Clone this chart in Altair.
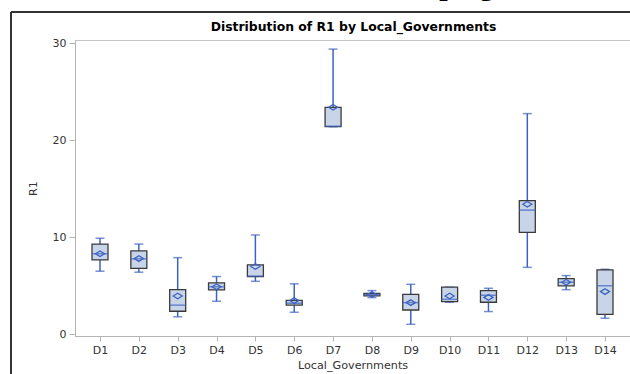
import altair as alt
import pandas as pd

# Summary statistics of R1 for each local government
districts = ["D1", "D2", "D3", "D4", "D5", "D6", "D7",
             "D8", "D9", "D10", "D11", "D12", "D13", "D14"]
whisker_low = [6.5, 6.4, 1.8, 3.4, 5.46, 2.27, 21.4, 3.78, 1.03, 3.3, 2.34, 6.9, 4.6, 1.65]
q1 = [7.66, 6.8, 2.37, 4.57, 5.95, 3.0, 21.4, 3.95, 2.5, 3.37, 3.3, 10.5, 4.98, 2.06]
median = [8.3, 7.77, 3.0, 4.9, 6.0, 3.2, 21.45, 4.1, 3.26, 3.6, 4.02, 12.8, 5.36, 5.0]
q3 = [9.3, 8.6, 4.6, 5.3, 7.15, 3.5, 23.4, 4.2, 4.12, 4.85, 4.5, 13.78, 5.74, 6.63]
whisker_high = [9.9, 9.3, 7.9, 5.95, 10.24, 5.2, 29.4, 4.5, 5.15, 4.85, 4.74, 22.75, 6.05, 6.7]
mean = [8.3, 7.8, 3.95, 4.9, 6.98, 3.47, 23.4, 4.1, 3.26, 3.95, 3.8, 13.4, 5.36, 4.4]

df = pd.DataFrame({
    "Local_Governments": districts,
    "lo": whisker_low, "q1": q1, "med": median,
    "q3": q3, "hi": whisker_high, "mean": mean,
})

FONT = "DejaVu Sans"
BLUE = "#3d63c2"
FILL = "#c8d5e8"
EDGE = "#3a3a3a"
W, H = 555, 296

x_enc = alt.X("Local_Governments:N", sort=districts,
              scale=alt.Scale(type="point", padding=0.6435),
              axis=alt.Axis(title="Local_Governments", labelAngle=0,
                            tickSize=5, labelPadding=3, titlePadding=4))
y_scale = alt.Scale(domain=[-0.18, 30.34], nice=False, zero=False)
y_axis = alt.Axis(title="R1", values=[0, 10, 20, 30], tickSize=6,
                  labelPadding=3, titlePadding=14)

base = alt.Chart(df).encode(x=x_enc)

whisker = base.mark_rule(color=BLUE, strokeWidth=1.5).encode(
    y=alt.Y("lo:Q", scale=y_scale, axis=y_axis), y2="hi:Q")
cap_lo = base.mark_tick(color=BLUE, size=9, thickness=1.5).encode(
    y=alt.Y("lo:Q", scale=y_scale))
cap_hi = base.mark_tick(color=BLUE, size=9, thickness=1.5).encode(
    y=alt.Y("hi:Q", scale=y_scale))
box = base.mark_bar(size=16, fill=FILL, stroke=EDGE, strokeWidth=1.3).encode(
    y=alt.Y("q1:Q", scale=y_scale), y2="q3:Q")
med_line = base.mark_tick(color=BLUE, size=16, thickness=1.5).encode(
    y=alt.Y("med:Q", scale=y_scale))
mean_pt = base.mark_point(shape="M-1,0L0,-0.62L1,0L0,0.62Z", filled=False,
                          stroke=BLUE, strokeWidth=1.3, size=81, opacity=1).encode(
    y=alt.Y("mean:Q", scale=y_scale))

# Outer frame of the figure, the heading line above it and the plot title
one = alt.Chart(pd.DataFrame({"k": [0]}))
frame_left = one.mark_rule(color="#333333", strokeWidth=2).encode(
    x=alt.value(-64), y=alt.value(-28), y2=alt.value(400))
frame_top = one.mark_rule(color="#333333", strokeWidth=2).encode(
    x=alt.value(-64), x2=alt.value(600), y=alt.value(-28))
heading = one.mark_text(text="Campaign", font="Liberation Serif", fontSize=30,
                        fontWeight="bold", align="right", baseline="alphabetic",
                        color="#000000").encode(x=alt.value(436), y=alt.value(-45))
plot_title = one.mark_text(text="Distribution of R1 by Local_Governments",
                           font=FONT, fontSize=12.4, fontWeight="bold",
                           align="center", baseline="middle",
                           color="#000000").encode(x=alt.value(W / 2 + 1), y=alt.value(-13))

chart = alt.layer(
    frame_left, frame_top, heading, plot_title,
    whisker, cap_lo, cap_hi, box, med_line, mean_pt,
).properties(
    width=W, height=H,
    autosize=alt.AutoSizeParams(type="none"),
    padding={"left": 75, "top": 40, "right": 0, "bottom": 38},
    background="white",
).configure_view(
    stroke="#c4c4c4", strokeWidth=1
).configure_axis(
    grid=False, labelFont=FONT, titleFont=FONT, labelFontSize=11,
    titleFontSize=11.2, titleFontWeight="normal", labelColor="#333333",
    titleColor="#333333", domainColor="#b4b4b4", tickColor="#b4b4b4"
)

chart.save("out.html", embed_options={"renderer": "svg", "actions": False})
